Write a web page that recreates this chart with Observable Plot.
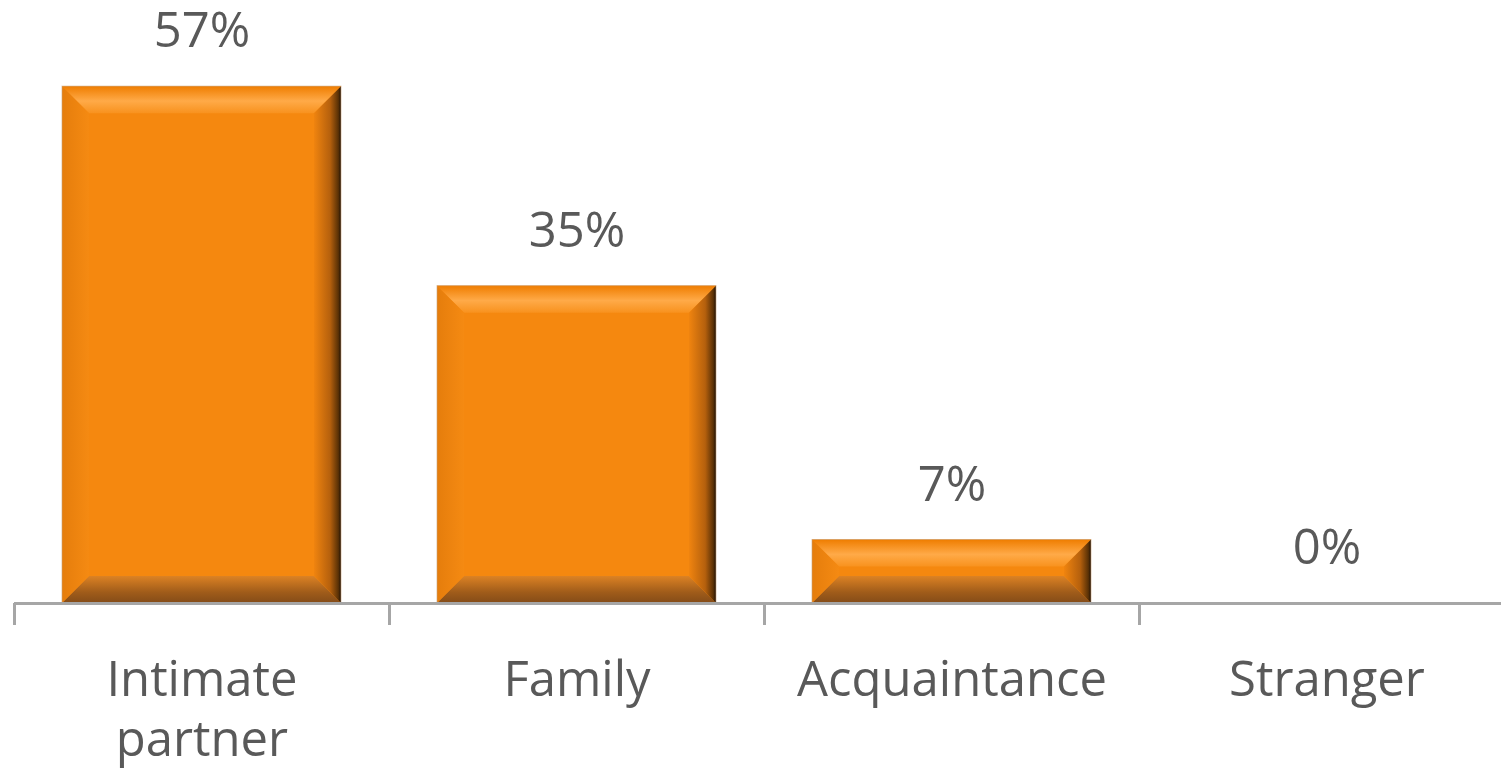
<!DOCTYPE html>
<html><head><meta charset="utf-8">
<script src="https://cdn.jsdelivr.net/npm/d3@7"></script>
<script src="https://cdn.jsdelivr.net/npm/@observablehq/plot@0.6"></script>
<style>html,body{margin:0;padding:0;background:#fff;overflow:hidden}</style>
</head><body><div id="chart"></div>
<script>
const categories = ["Intimate partner", "Family", "Acquaintance", "Stranger"];
const values = [57, 35, 7, 0];
const labels = ["57%", "35%", "7%", "0%"];

const data = categories.map((c, i) => ({cat: c, v: values[i], label: labels[i]}));
const FONT = "'Open Sans', sans-serif";
const TXT = "#595959";

function bevel(index, scales, vals, dims, context, next) {
  const g = next(index, scales, vals, dims, context);
  const svgNS = "http://www.w3.org/2000/svg";
  const defs = document.createElementNS(svgNS, "defs");
  defs.innerHTML = `
    <linearGradient id="gTop" x1="0" y1="0" x2="0" y2="1">
      <stop offset="0" stop-color="#EF7D00"/><stop offset="0.55" stop-color="#FFAA48"/><stop offset="1" stop-color="#F8921E"/></linearGradient>
    <linearGradient id="gBot" x1="0" y1="0" x2="0" y2="1">
      <stop offset="0" stop-color="#DC8224"/><stop offset="0.6" stop-color="#A05C1A"/><stop offset="1" stop-color="#844C18"/></linearGradient>
    <linearGradient id="gLeft" x1="0" y1="0" x2="1" y2="0">
      <stop offset="0" stop-color="#E57D0C"/><stop offset="1" stop-color="#F58A12"/></linearGradient>
    <linearGradient id="gRight" x1="0" y1="0" x2="1" y2="0">
      <stop offset="0" stop-color="#F0840F"/><stop offset="0.6" stop-color="#B5600D"/><stop offset="0.9" stop-color="#5A3106"/><stop offset="1" stop-color="#1E1005"/></linearGradient>`;
  g.insertBefore(defs, g.firstChild);
  const rects = Array.from(g.querySelectorAll("rect"));
  for (const r of rects) {
    const x = +r.getAttribute("x"), y = +r.getAttribute("y");
    const w = +r.getAttribute("width"), h = +r.getAttribute("height");
    if (!(h > 0)) continue;
    const b = Math.min(27, h / 2);
    const polys = [
      [[x, y], [x + w, y], [x + w - b, y + b], [x + b, y + b], "url(#gTop)"],
      [[x, y + h], [x + w, y + h], [x + w - b, y + h - b], [x + b, y + h - b], "url(#gBot)"],
      [[x, y], [x + b, y + b], [x + b, y + h - b], [x, y + h], "url(#gLeft)"],
      [[x + w, y], [x + w - b, y + b], [x + w - b, y + h - b], [x + w, y + h], "url(#gRight)"]
    ];
    for (const p of polys) {
      const el = document.createElementNS(svgNS, "polygon");
      el.setAttribute("points", p.slice(0, 4).map(q => q.join(",")).join(" "));
      el.setAttribute("fill", p[4]);
      g.appendChild(el);
    }
    const o = document.createElementNS(svgNS, "rect");
    o.setAttribute("x", x); o.setAttribute("y", y); o.setAttribute("width", w); o.setAttribute("height", h);
    o.setAttribute("fill", "none"); o.setAttribute("stroke", "#c9a27a"); o.setAttribute("stroke-width", "1");
    o.setAttribute("stroke-opacity", "0.6");
    g.appendChild(o);
  }
  return g;
}

const chart = Plot.plot({
  width: 1501,
  height: 771,
  marginLeft: 14,
  marginRight: -13,
  marginTop: 0,
  marginBottom: 168,
  x: {domain: categories, paddingInner: 0.256, paddingOuter: 0.128, axis: null},
  y: {domain: [0, 66.5], axis: null},
  style: {fontFamily: FONT, background: "#fff", overflow: "visible"},
  marks: [
    Plot.barY(data, {x: "cat", y: "v", fill: "#F5880F", render: bevel}),
    Plot.ruleY([0], {stroke: "#A6A6A6", strokeWidth: 3}),
    Plot.ruleX(categories, {x: d => d, y1: 0, y2: 0, insetBottom: -22, dx: -187.5, stroke: "#A6A6A6", strokeWidth: 3}),
    Plot.text(data, {x: "cat", y: "v", text: "label", dy: -55, lineAnchor: "middle", fontSize: 49, fill: TXT}),
    Plot.text(data, {x: "cat", y: 0, text: d => d.cat.replace(" ", "\n"), dy: 49, lineAnchor: "top", lineHeight: 1.24, fontSize: 49, fill: TXT})
  ]
});
document.getElementById("chart").appendChild(chart);
</script></body></html>
